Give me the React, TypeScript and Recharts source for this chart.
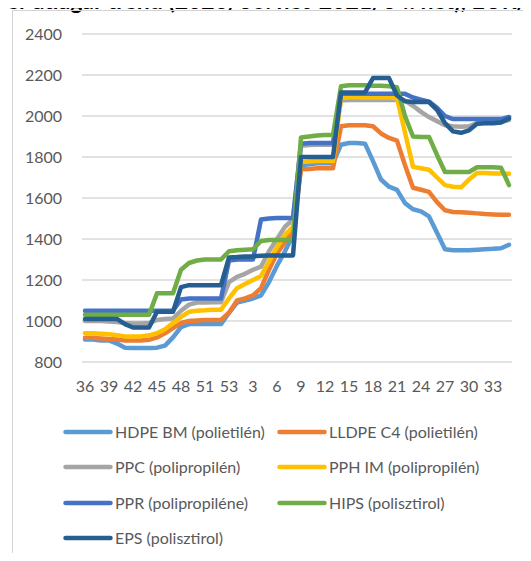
import React from 'react';
import { LineChart, Line, XAxis, YAxis, CartesianGrid, Legend } from 'recharts';

const weekLabels: string[] = [
  '36', '37', '38', '39', '40', '41', '42', '43', '44', '45', '46', '47', '48', '49', '50', '51',
  '52', '52', '53',
  '1', '2', '3', '4', '5', '6', '7', '8', '9', '10', '11', '12', '13', '14', '15', '16', '17',
  '18', '19', '20', '21', '22', '23', '24', '25', '26', '27', '28', '29', '30', '31', '32', '33', '34', '35',
];

const hdpe: number[] = [
  910, 910, 905, 905, 890, 870, 868, 868, 868, 870, 880, 920, 970, 985, 985, 985, 985, 985,
  1040, 1090, 1100, 1110, 1125, 1190, 1270, 1340, 1420,
  1760, 1765, 1770, 1770, 1770,
  1860, 1868, 1868, 1865,
  1780, 1690, 1655, 1640, 1575, 1545, 1535, 1510, 1430, 1350,
  1345, 1345, 1345, 1348, 1350, 1352, 1355, 1372,
];

const lldpe: number[] = [
  918, 918, 915, 912, 910, 905, 905, 905, 908, 920, 940, 965, 990, 1000, 1003, 1005, 1005, 1005,
  1040, 1100, 1110, 1125, 1160, 1250, 1330, 1385, 1440,
  1740, 1742, 1745, 1745, 1745,
  1950, 1955, 1955, 1955,
  1950, 1915, 1893, 1880, 1760, 1650, 1640, 1630, 1580, 1540,
  1532, 1530, 1528, 1525, 1522, 1520, 1518, 1518,
];

const ppc: number[] = [
  1000, 1000, 1000, 998, 995, 990, 988, 988, 990, 1005, 1010, 1012, 1050, 1080, 1090, 1090, 1092, 1092,
  1190, 1215, 1230, 1250, 1265, 1340, 1400, 1460, 1495,
  1855, 1858, 1860, 1860, 1860,
  2075, 2078, 2078, 2078, 2078, 2078, 2078, 2078,
  2075, 2050, 2020, 1995, 1975, 1955,
  1950, 1948, 1950, 1965, 1970, 1970, 1972, 1980,
];

const pph: number[] = [
  940, 940, 938, 935, 930, 925, 925, 925, 930, 940, 960, 990, 1020, 1045, 1050, 1052, 1055, 1055,
  1110, 1160, 1180, 1200, 1220, 1290, 1360, 1420, 1460,
  1775, 1778, 1780, 1780, 1780,
  2088, 2092, 2092, 2090, 2090, 2090, 2090, 2088,
  1920, 1752, 1745, 1738, 1700, 1663,
  1655, 1652, 1690, 1722, 1722, 1720, 1720, 1718,
];

const ppr: number[] = [
  1050, 1050, 1050, 1050, 1050, 1050, 1050, 1050, 1050, 1050, 1050, 1050, 1105, 1110, 1110, 1110, 1110, 1110,
  1295, 1300, 1300, 1300, 1495, 1500, 1502, 1502, 1502,
  1865, 1868, 1868, 1868, 1868,
  2108, 2108, 2108, 2108, 2108, 2108, 2108, 2108, 2108,
  2090, 2080, 2070, 2040, 2000,
  1985, 1985, 1985, 1985, 1985, 1985, 1985, 1995,
];

const hips: number[] = [
  1030, 1030, 1030, 1030, 1030, 1030, 1030, 1030, 1030, 1135, 1135, 1135, 1250, 1283, 1295, 1300, 1300, 1300,
  1340, 1345, 1348, 1350, 1390, 1395, 1395, 1395, 1395,
  1895, 1900, 1905, 1907, 1907,
  2145, 2150, 2150, 2150, 2148, 2148, 2145, 2140,
  2000, 1900, 1898, 1898, 1810, 1727,
  1727, 1727, 1727, 1750, 1750, 1750, 1748, 1663,
];

const eps: number[] = [
  1010, 1010, 1010, 1010, 1010, 985, 968, 968, 968, 1045, 1045, 1045, 1165, 1175, 1175, 1175, 1175, 1175,
  1310, 1312, 1315, 1315, 1318, 1320, 1320, 1320, 1320,
  1800, 1800, 1800, 1800, 1800,
  2115, 2115, 2115, 2115, 2185, 2185, 2185,
  2100, 2072, 2068, 2068, 2068, 2030, 1965,
  1925, 1918, 1930, 1962, 1965, 1965, 1968, 1988,
];

const seriesKeys: string[] = ['hdpe', 'lldpe', 'ppc', 'pph', 'ppr', 'hips', 'eps'];
const seriesNames: string[] = [
  'HDPE BM (polietilén)',
  'LLDPE C4 (polietilén)',
  'PPC (polipropilén)',
  'PPH IM (polipropilén)',
  'PPR (polipropiléne)',
  'HIPS (polisztirol)',
  'EPS (polisztirol)',
];
const seriesColors: string[] = ['#5B9BD5', '#ED7D31', '#A5A5A5', '#FFC000', '#4472C4', '#70AD47', '#255E91'];
const seriesValues: number[][] = [hdpe, lldpe, ppc, pph, ppr, hips, eps];

const yTicks: number[] = [800, 1000, 1200, 1400, 1600, 1800, 2000, 2200, 2400];

const titleText = 'Polimer átlagár trend (2020/36. hét-2021/34. hét), EUR/t';

const data = weekLabels.map((week, i) => {
  const row: Record<string, number | string> = { week };
  seriesKeys.forEach((k, s) => {
    row[k] = seriesValues[s][i];
  });
  return row;
});

const FONT = 'Lato, "Liberation Sans", Arial, sans-serif';
const TEXT_COLOR = '#595959';

function LegendContent(props: any) {
  const payload = [...(props.payload || [])].sort(
    (a: any, b: any) => seriesNames.indexOf(a.value) - seriesNames.indexOf(b.value)
  );
  return (
    <div style={{ position: 'relative', width: 531, height: 140 }}>
      {payload.map((p: any, k: number) => {
        const col = k % 2;
        const row = Math.floor(k / 2);
        return (
          <div
            key={k}
            style={{
              position: 'absolute',
              left: 63 + col * 214,
              top: row * 35.3,
              height: 20,
              display: 'flex',
              alignItems: 'center',
              whiteSpace: 'nowrap',
            }}
          >
            <svg width={50} height={8} style={{ display: 'block' }}>
              <line x1={2.5} y1={4} x2={47.5} y2={4} stroke={p.color} strokeWidth={4.5} strokeLinecap="round" />
            </svg>
            <span style={{ marginLeft: 2, fontSize: 16, lineHeight: '20px', color: TEXT_COLOR, fontFamily: FONT }}>
              {p.value}
            </span>
          </div>
        );
      })}
    </div>
  );
}

export default function App() {
  return (
    <div
      style={{
        position: 'relative',
        width: 531,
        height: 561,
        overflow: 'hidden',
        margin: -8,
        background: '#ffffff',
      }}
    >
      <svg width={531} height={24} style={{ position: 'absolute', left: 0, top: 0 }}>
        <text x={-51} y={9} fontSize={23} fontWeight={700} fontFamily={FONT} fill="#000000">
          {titleText}
        </text>
      </svg>
      <div
        style={{
          position: 'absolute',
          left: 12,
          top: 10,
          width: 580,
          height: 620,
          border: '1px solid #d4d4d4',
          boxSizing: 'border-box',
        }}
      />
      <div style={{ position: 'absolute', left: 0, top: 0 }}>
        <LineChart width={531} height={561} data={data} margin={{ top: 34, right: 19, bottom: 169, left: 0 }}>
          <CartesianGrid vertical={false} stroke="#d9d9d9" strokeWidth={1.3} />
          <XAxis
            dataKey="week"
            interval={2}
            axisLine={false}
            tickLine={false}
            tickMargin={13}
            height={30}
            padding={{ left: 3, right: 3 }}
            tick={{ fill: TEXT_COLOR, fontSize: 16, fontFamily: FONT }}
          />
          <YAxis
            domain={[800, 2400]}
            ticks={yTicks}
            interval={0}
            axisLine={false}
            tickLine={false}
            width={82}
            tickMargin={14}
            tick={{ fill: TEXT_COLOR, fontSize: 16, fontFamily: FONT }}
          />
          {seriesKeys.map((k, s) => (
            <Line
              key={k}
              type="linear"
              dataKey={k}
              name={seriesNames[s]}
              stroke={seriesColors[s]}
              strokeWidth={4.5}
              strokeLinejoin="round"
              strokeLinecap="round"
              dot={false}
              activeDot={false}
              isAnimationActive={false}
            />
          ))}
          <Legend
            layout="horizontal"
            verticalAlign="middle"
            align="center"
            content={<LegendContent />}
            wrapperStyle={{ left: 0, top: 422, width: 531, height: 140 }}
          />
        </LineChart>
      </div>
    </div>
  );
}
